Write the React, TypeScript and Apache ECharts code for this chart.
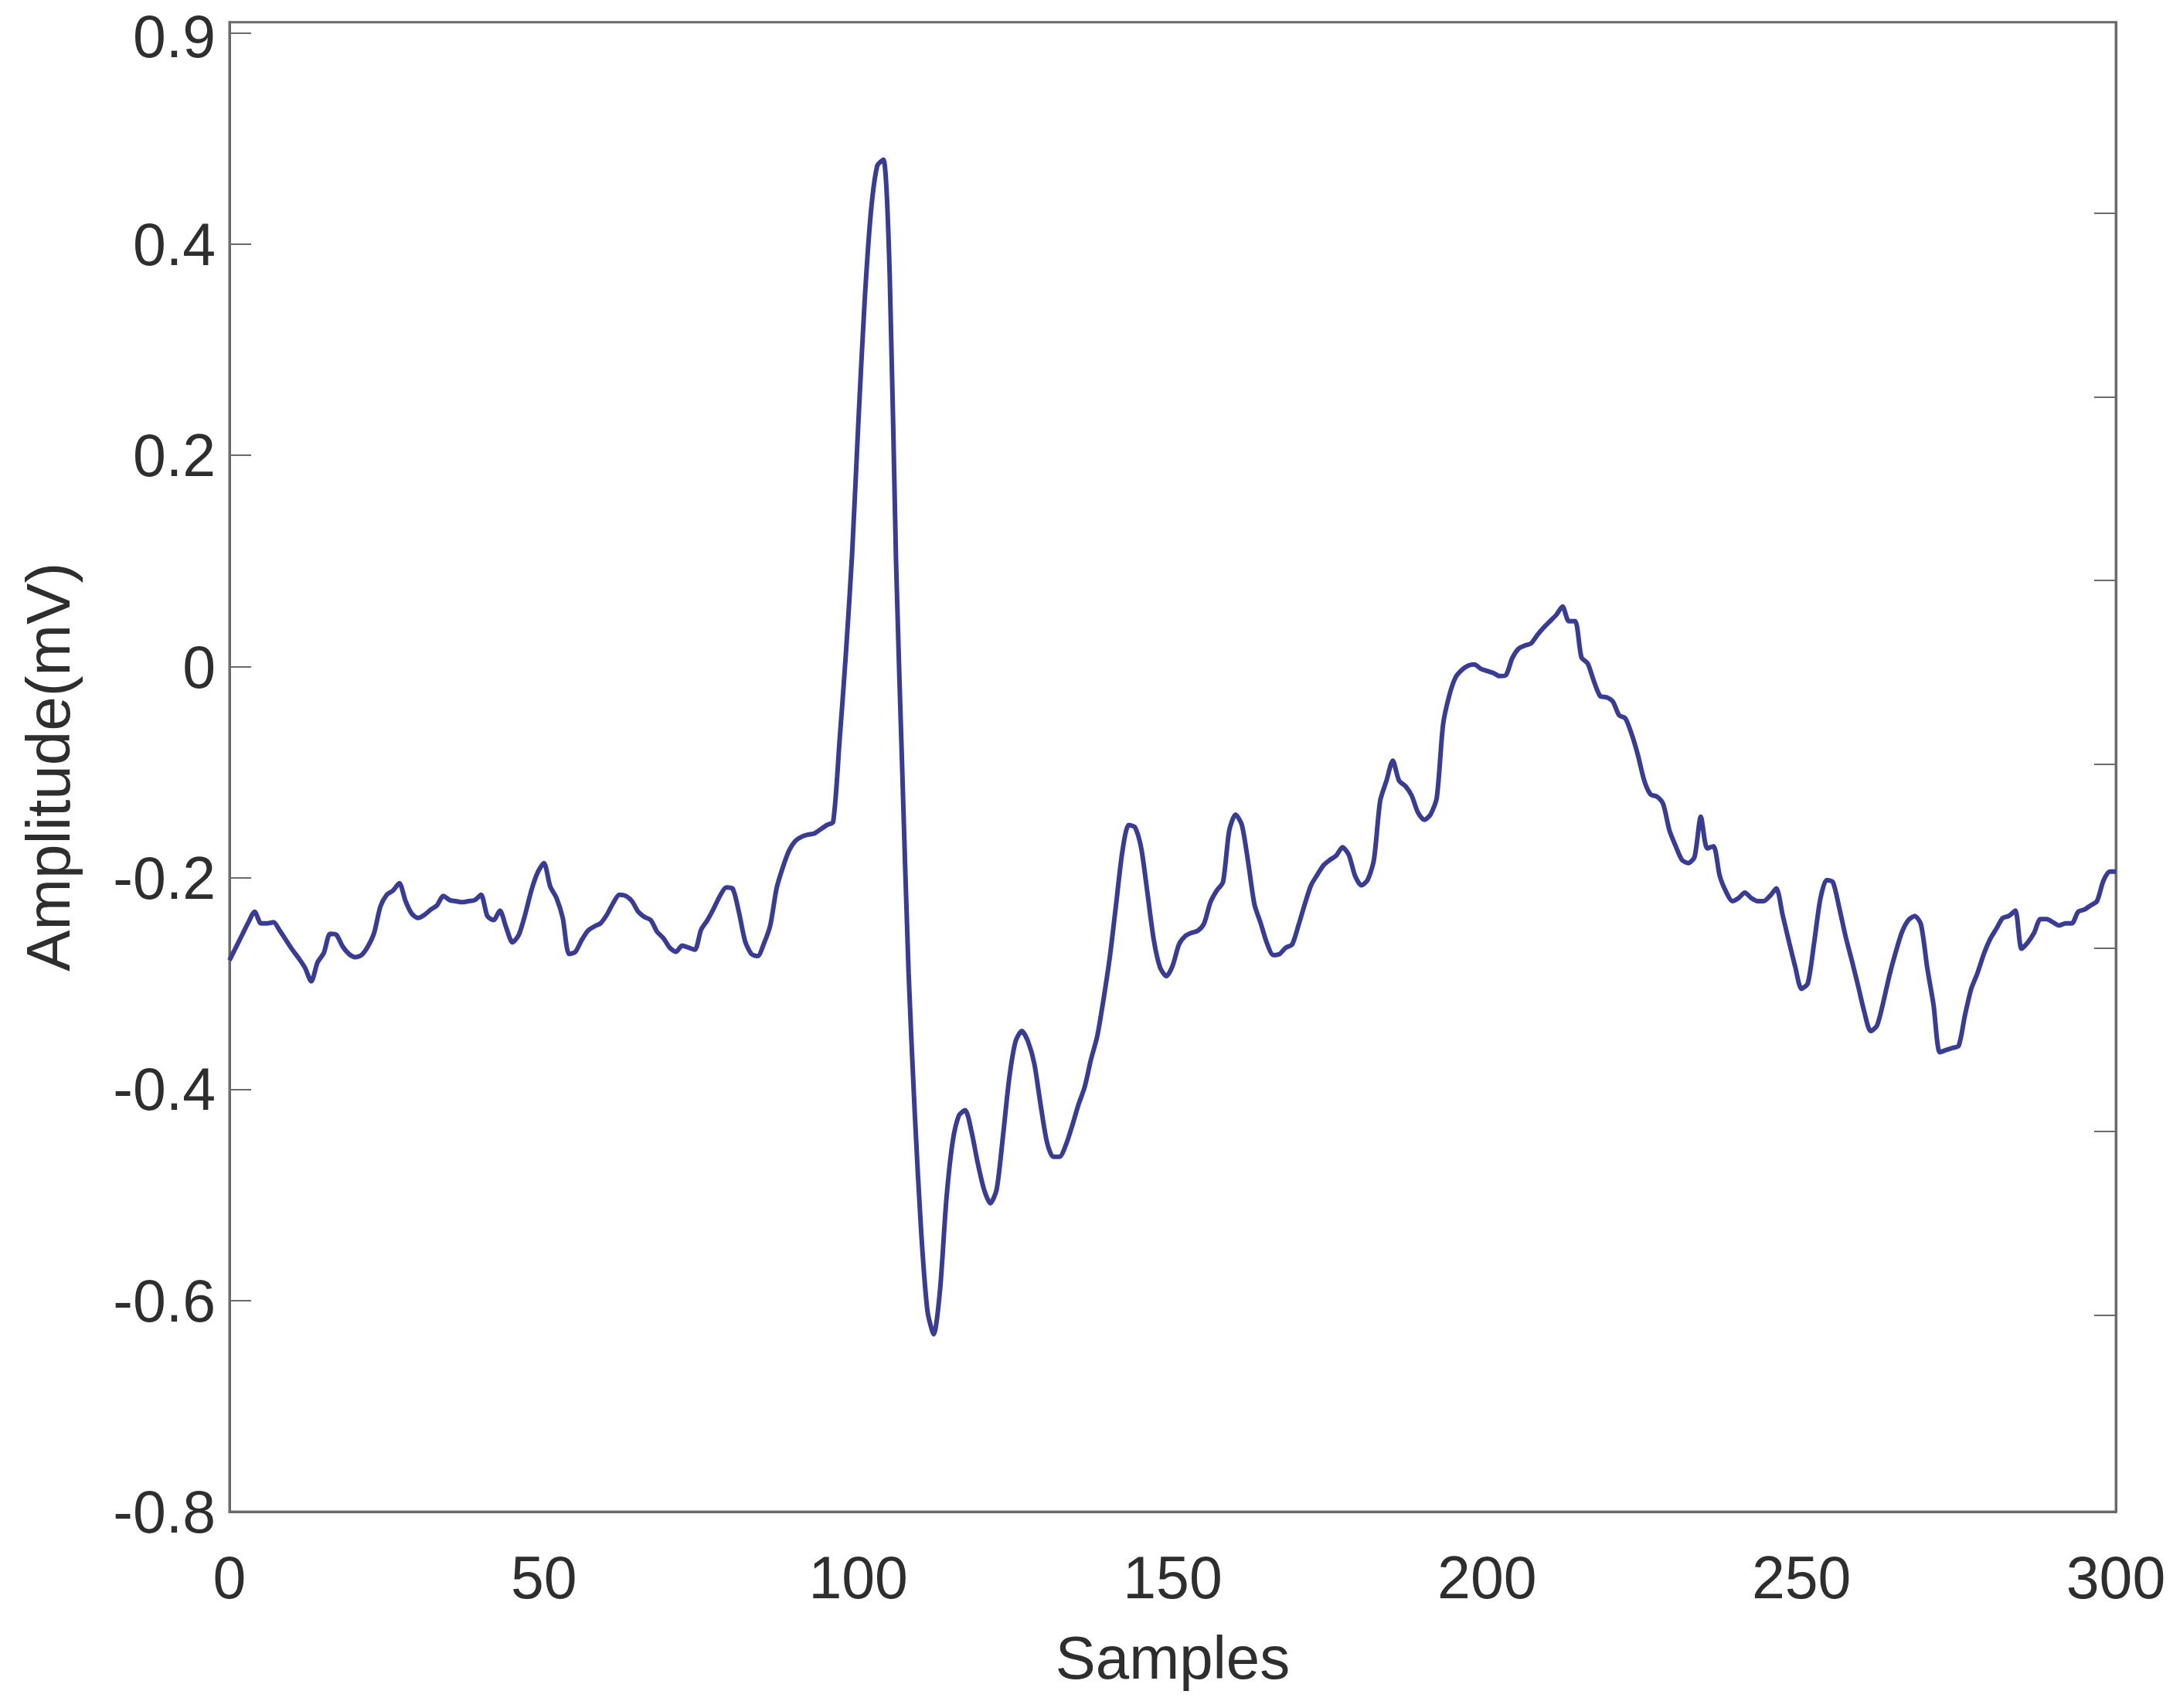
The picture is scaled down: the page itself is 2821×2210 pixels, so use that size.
import React, { useEffect, useRef } from "react";
import * as echarts from "echarts";

// ECG amplitude (mV) per sample, samples 0..300
const amplitudes: number[] = [
  -0.278, -0.266, -0.254, -0.242, -0.232, -0.243, -0.243, -0.242, -0.25, -0.259,
  -0.268, -0.276, -0.285, -0.298, -0.28, -0.271, -0.253, -0.254, -0.265, -0.272,
  -0.275, -0.273, -0.265, -0.252, -0.227, -0.216, -0.212, -0.205, -0.222, -0.234,
  -0.238, -0.235, -0.23, -0.226, -0.217, -0.221, -0.222, -0.223, -0.222, -0.221,
  -0.216, -0.236, -0.24, -0.231, -0.247, -0.261, -0.254, -0.235, -0.212, -0.195,
  -0.186, -0.208, -0.219, -0.238, -0.272, -0.27, -0.259, -0.25, -0.246, -0.243,
  -0.235, -0.224, -0.216, -0.217, -0.222, -0.232, -0.237, -0.24, -0.251, -0.257,
  -0.266, -0.27, -0.264, -0.266, -0.268, -0.249, -0.24, -0.229, -0.217, -0.209,
  -0.21, -0.232, -0.26, -0.272, -0.274, -0.262, -0.245, -0.21, -0.19, -0.174,
  -0.165, -0.161, -0.159, -0.158, -0.154, -0.15, -0.147, -0.072, 0.01, 0.105,
  0.23, 0.345, 0.43, 0.474, 0.48, 0.37, 0.1, -0.1, -0.29, -0.425,
  -0.535, -0.61, -0.632, -0.59, -0.505, -0.45, -0.425, -0.42, -0.44, -0.47,
  -0.495, -0.508, -0.495, -0.445, -0.39, -0.355, -0.345, -0.355, -0.376, -0.415,
  -0.45, -0.464, -0.464, -0.453, -0.435, -0.415, -0.398, -0.372, -0.35, -0.315,
  -0.275, -0.225, -0.175, -0.15, -0.152, -0.172, -0.215, -0.259, -0.285, -0.293,
  -0.283, -0.263, -0.255, -0.252, -0.25, -0.243, -0.223, -0.212, -0.204, -0.155,
  -0.14, -0.15, -0.185, -0.225, -0.243, -0.262, -0.273, -0.272, -0.266, -0.263,
  -0.245, -0.225, -0.207, -0.197, -0.188, -0.183, -0.179, -0.171, -0.178, -0.198,
  -0.207, -0.202, -0.183, -0.127, -0.108, -0.089, -0.108, -0.113, -0.122, -0.138,
  -0.145, -0.14, -0.124, -0.055, -0.027, -0.01, -0.003, 0.001, 0.002, -0.002,
  -0.004, -0.006, -0.009, -0.008, 0.008, 0.017, 0.02, 0.022, 0.03, 0.037,
  0.043, 0.049, 0.057, 0.043, 0.043, 0.009, 0.003, -0.014, -0.028, -0.029,
  -0.033, -0.046, -0.049, -0.064, -0.084, -0.108, -0.121, -0.123, -0.13, -0.155,
  -0.17, -0.183, -0.186, -0.18, -0.142, -0.172, -0.17, -0.198, -0.213, -0.222,
  -0.219, -0.214, -0.219, -0.222, -0.222, -0.217, -0.21, -0.235, -0.26, -0.284,
  -0.305, -0.3, -0.262, -0.22, -0.202, -0.204, -0.228, -0.255, -0.278, -0.302,
  -0.327, -0.345, -0.34, -0.318, -0.292, -0.27, -0.251, -0.24, -0.236, -0.244,
  -0.285, -0.32, -0.365, -0.363, -0.361, -0.359, -0.33, -0.305, -0.29, -0.272,
  -0.258, -0.248, -0.238, -0.236, -0.231, -0.267, -0.261, -0.252, -0.239, -0.239,
  -0.242, -0.245, -0.243, -0.243, -0.232, -0.23, -0.226, -0.222, -0.203, -0.194,
  -0.194,
];

const yTickValues: number[] = [-0.8, -0.6, -0.4, -0.2, 0, 0.2, 0.4, 0.6];
const yTickLabels: string[] = ["-0.8", "-0.6", "-0.4", "-0.2", "0", "0.2", "0.4", "0.9"];
const xTickValues: number[] = [0, 50, 100, 150, 200, 250, 300];
const rightTickValues: number[] = [1.07, 2.07, 3.07, 4.07, 5.07, 6.07, 7.07];

const FONT = "'Liberation Sans', Arial, Helvetica, sans-serif";
const TEXT = "#2e2e2e";
const FRAME = "#6a6a6a";
const LINE = "#393c95";

export default function App() {
  const ref = useRef<HTMLDivElement>(null);

  useEffect(() => {
    if (!ref.current) return;
    const chart = echarts.init(ref.current, null, { renderer: "svg" });
    const seriesData = amplitudes.map((v, i) => [i, v]);
    const topIdx = yTickValues.length - 1;
    chart.setOption({
      animation: false,
      backgroundColor: "#ffffff",
      grid: {
        left: 297,
        right: 83,
        top: 25,
        bottom: 254,
        show: true,
        borderColor: FRAME,
        borderWidth: 3,
        backgroundColor: "transparent",
      },
      xAxis: {
        type: "value",
        min: 0,
        max: 300,
        interval: 50,
        name: "Samples",
        nameLocation: "middle",
        nameGap: 150,
        nameTextStyle: { fontFamily: FONT, fontSize: 78, color: TEXT },
        axisLine: { show: true, onZero: false, lineStyle: { color: FRAME, width: 3 } },
        axisTick: { show: false },
        splitLine: { show: false },
        axisLabel: {
          customValues: xTickValues,
          fontFamily: FONT,
          fontSize: 77,
          color: TEXT,
          margin: 46,
        },
      },
      yAxis: [
        {
          type: "value",
          min: -0.8,
          max: 0.61,
          name: "Amplitude(mV)",
          nameLocation: "middle",
          nameGap: 195,
          nameRotate: 90,
          nameTextStyle: { fontFamily: FONT, fontSize: 80, color: TEXT },
          axisLine: { show: true, onZero: false, lineStyle: { color: FRAME, width: 3 } },
          axisTick: {
            show: true,
            inside: true,
            length: 28,
            customValues: yTickValues,
            lineStyle: { color: FRAME, width: 2 },
          },
          splitLine: { show: false },
          axisLabel: {
            customValues: yTickValues,
            fontFamily: FONT,
            fontSize: 77,
            color: TEXT,
            margin: 18,
            formatter: (v: number) => {
              const k = yTickValues.findIndex((t) => Math.abs(t - v) < 1e-6);
              if (k < 0) return "";
              return k === topIdx ? "{top|" + yTickLabels[k] + "}" : yTickLabels[k];
            },
            rich: {
              top: {
                fontFamily: FONT,
                fontSize: 77,
                color: TEXT,
                lineHeight: 56,
                padding: [8, 0, 0, 0],
              },
            },
          },
        },
        {
          type: "value",
          position: "right",
          min: 0,
          max: 8.11,
          axisLine: { show: true, onZero: false, lineStyle: { color: FRAME, width: 3 } },
          axisTick: {
            show: true,
            inside: true,
            length: 28,
            customValues: rightTickValues,
            lineStyle: { color: FRAME, width: 2 },
          },
          axisLabel: { show: false },
          splitLine: { show: false },
        },
      ],
      series: [
        {
          type: "line",
          data: seriesData,
          yAxisIndex: 0,
          showSymbol: false,
          symbol: "none",
          smooth: 0.25,
          lineStyle: { color: LINE, width: 6 },
        },
      ],
    });
    return () => chart.dispose();
  }, []);

  return (
    <div
      ref={ref}
      style={{ position: "fixed", left: 0, top: 0, width: 2821, height: 2210, background: "#fff" }}
    />
  );
}
